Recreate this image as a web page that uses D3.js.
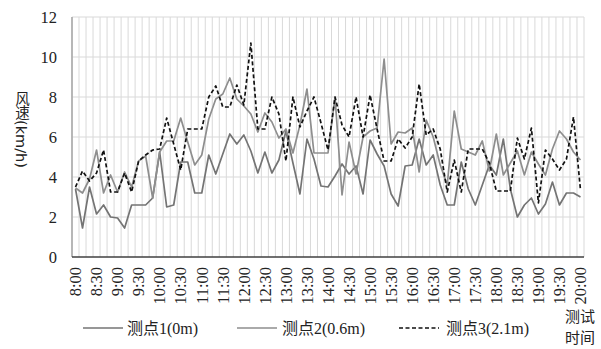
<!DOCTYPE html>
<html>
<head>
<meta charset="utf-8">
<script src="https://cdn.jsdelivr.net/npm/d3@7"></script>
<style>
  body { margin: 0; background: #fff; }
  svg { display: block; }
</style>
</head>
<body>
<div id="chart"></div>
<script>
const times = ["8:00","8:10","8:20","8:30","8:40","8:50","9:00","9:10","9:20","9:30","9:40","9:50",
  "10:00","10:10","10:20","10:30","10:40","10:50","11:00","11:10","11:20","11:30","11:40","11:50",
  "12:00","12:10","12:20","12:30","12:40","12:50","13:00","13:10","13:20","13:30","13:40","13:50",
  "14:00","14:10","14:20","14:30","14:40","14:50","15:00","15:10","15:20","15:30","15:40","15:50",
  "16:00","16:10","16:20","16:30","16:40","16:50","17:00","17:10","17:20","17:30","17:40","17:50",
  "18:00","18:10","18:20","18:30","18:40","18:50","19:00","19:10","19:20","19:30","19:40","19:50","20:00"];
const tickLabels = ["8:00","8:30","9:00","9:30","10:00","10:30","11:00","11:30","12:00","12:30","13:00","13:30",
  "14:00","14:30","15:00","15:30","16:00","16:30","17:00","17:30","18:00","18:30","19:00","19:30","20:00"];
const yTicks = [0, 2, 4, 6, 8, 10, 12];

// 测点1 (0m)
const point1 = [3.4,1.45,3.5,2.15,2.6,2.0,1.95,1.45,2.6,2.6,2.6,2.95,
  5.25,2.5,2.6,4.75,4.75,3.2,3.2,5.1,4.15,5.15,6.15,5.65,
  6.1,5.3,4.2,5.25,4.2,4.85,6.3,4.7,3.15,5.9,4.9,3.55,
  3.5,4.05,4.65,4.15,4.55,3.15,5.85,5.15,4.55,3.15,2.55,4.55,
  4.6,5.9,4.6,5.1,3.6,2.6,2.6,4.75,3.4,2.6,3.6,4.6,
  4.1,5.9,3.4,2.0,2.6,2.95,2.15,2.65,3.75,2.6,3.2,3.2,3.0];
// 测点2 (0.6m)
const point2 = [3.45,3.2,3.9,5.35,3.2,4.1,3.25,4.25,3.5,4.8,5.05,2.95,
  5.25,5.8,5.8,6.95,5.75,4.6,5.1,6.9,7.9,8.15,8.95,7.9,
  7.55,7.15,6.25,7.2,6.75,5.95,6.4,5.2,6.6,8.4,5.2,5.2,
  5.2,8.0,3.1,5.75,4.15,6.0,6.3,6.45,9.9,5.65,6.25,6.2,
  6.45,4.25,6.85,6.0,4.6,3.6,7.3,5.4,5.25,5.1,5.8,4.3,
  6.15,4.1,4.7,5.3,4.1,5.25,4.65,4.1,5.4,6.3,5.9,5.25,4.85];
// 测点3 (2.1m)
const point3 = [3.5,4.3,3.8,4.2,5.35,3.25,3.25,4.2,3.25,4.8,5.1,5.35,
  5.4,6.95,5.65,4.35,6.4,6.4,6.4,8.0,8.55,7.5,7.5,8.6,
  7.6,10.7,6.4,6.4,8.0,7.15,4.8,8.0,6.5,7.3,8.0,6.7,
  5.35,8.0,6.6,6.0,8.0,6.0,8.1,6.4,4.8,4.8,5.9,5.45,
  6.0,8.65,6.1,6.4,5.4,3.25,4.85,3.25,5.4,5.4,5.4,4.7,
  3.3,3.3,3.3,5.95,4.9,6.45,2.7,5.35,4.9,4.35,4.9,7.0,3.35];

const seriesNames = ["测点1(0m)", "测点2(0.6m)", "测点3(2.1m)"];

const width = 601, height = 349;
const plotLeft = 72, plotRight = 584, plotTop = 17, plotBottom = 257;

const svg = d3.select("#chart").append("svg")
  .attr("width", width)
  .attr("height", height);

const x = d3.scaleBand().domain(times).range([plotLeft, plotRight]).padding(0);
const y = d3.scaleLinear().domain([0, 12]).range([plotBottom, plotTop]);
const half = x.bandwidth() / 2;

// gridlines
const vLines = times.map(t => x(t)).concat([x.range()[1]]);
svg.append("g")
  .selectAll("line")
  .data(vLines)
  .join("line")
  .attr("x1", d => d).attr("x2", d => d)
  .attr("y1", plotTop).attr("y2", plotBottom)
  .attr("stroke", "#d9d9d9")
  .attr("stroke-width", 1);

svg.append("g")
  .selectAll("line")
  .data(yTicks.slice(1))
  .join("line")
  .attr("x1", plotLeft).attr("x2", plotRight)
  .attr("y1", d => y(d)).attr("y2", d => y(d))
  .attr("stroke", "#d9d9d9")
  .attr("stroke-width", 1.2);

// axes lines
svg.append("line")
  .attr("x1", plotLeft).attr("x2", plotLeft)
  .attr("y1", plotTop).attr("y2", plotBottom)
  .attr("stroke", "#a6a6a6").attr("stroke-width", 1.5);
svg.append("line")
  .attr("x1", plotLeft).attr("x2", plotRight)
  .attr("y1", plotBottom).attr("y2", plotBottom)
  .attr("stroke", "#404040").attr("stroke-width", 1.3);

// y axis labels
const yAxis = svg.append("g")
  .attr("transform", `translate(${plotLeft},0)`)
  .call(d3.axisLeft(y).tickValues(yTicks).tickSize(0).tickPadding(15));
yAxis.select(".domain").remove();
yAxis.selectAll("text")
  .attr("font-family", "'Liberation Serif', serif")
  .attr("font-size", 16.5)
  .attr("fill", "#222");

// x axis labels
const xAxis = svg.append("g")
  .attr("transform", `translate(0,${plotBottom})`)
  .call(d3.axisBottom(x).tickValues(tickLabels).tickSize(0));
xAxis.select(".domain").remove();
xAxis.selectAll("text")
  .attr("transform", "rotate(-90)")
  .attr("x", -10)
  .attr("y", 0)
  .attr("dy", "0.35em")
  .attr("text-anchor", "end")
  .attr("font-family", "'Liberation Serif', serif")
  .attr("font-size", 16.5)
  .attr("fill", "#222");

// series lines
const line = d3.line()
  .x((d, i) => x(times[i]) + half)
  .y(d => y(d));

const series = [
  { values: point1, color: "#747474", dash: null },
  { values: point2, color: "#8e8e8e", dash: null },
  { values: point3, color: "#111", dash: "4,2.5" }
];

svg.append("g")
  .selectAll("path")
  .data(series)
  .join("path")
  .attr("d", d => line(d.values))
  .attr("fill", "none")
  .attr("stroke", d => d.color)
  .attr("stroke-width", 1.7)
  .attr("stroke-dasharray", d => d.dash)
  .attr("stroke-linejoin", "round");

// y axis title, vertical writing: CJK upright, latin turned
svg.append("text")
  .attr("x", 21).attr("y", 91)
  .style("writing-mode", "vertical-rl")
  .attr("font-family", "'DejaVu Sans', 'Noto Sans CJK SC', sans-serif")
  .attr("font-size", 14.5)
  .attr("fill", "#222")
  .text("风速(km/h)");

// legend
const legendPos = [
  { lx: 83, tx: 127 },
  { lx: 237, tx: 282 },
  { lx: 399, tx: 446 }
];
const legend = svg.append("g")
  .selectAll("g")
  .data(series)
  .join("g");
legend.append("line")
  .attr("x1", (d, i) => legendPos[i].lx)
  .attr("x2", (d, i) => legendPos[i].lx + 40)
  .attr("y1", 328).attr("y2", 328)
  .attr("stroke", d => d.color)
  .attr("stroke-width", 1.7)
  .attr("stroke-dasharray", d => d.dash);
legend.append("text")
  .attr("x", (d, i) => legendPos[i].tx)
  .attr("y", 334)
  .attr("font-family", "'Liberation Serif', 'Noto Sans CJK SC', serif")
  .attr("font-size", 16)
  .attr("fill", "#222")
  .text((d, i) => seriesNames[i]);

// x axis title
const xTitle = svg.append("g")
  .attr("font-family", "'Noto Sans CJK SC', sans-serif")
  .attr("font-size", 15)
  .attr("fill", "#222")
  .attr("text-anchor", "middle");
xTitle.append("text").attr("x", 580).attr("y", 322).text("测试");
xTitle.append("text").attr("x", 580).attr("y", 343).text("时间");
</script>
</body>
</html>
